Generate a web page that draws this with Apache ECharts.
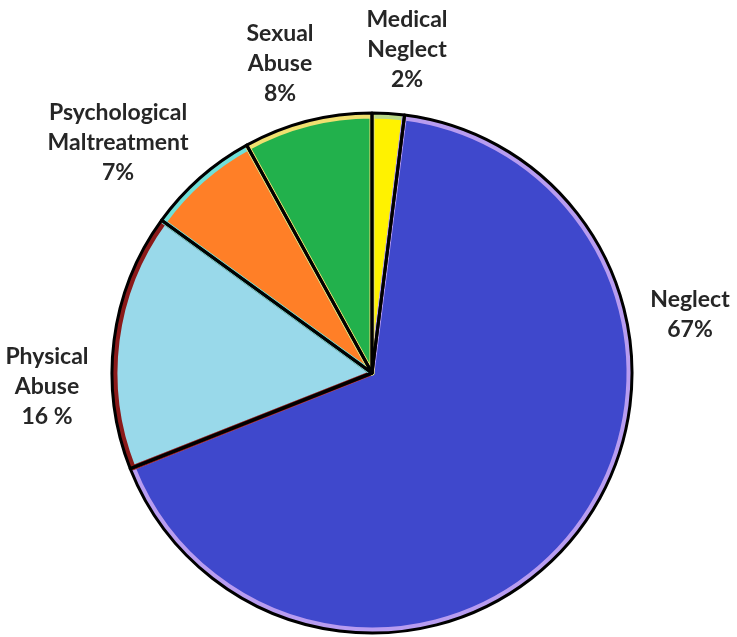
<!DOCTYPE html>
<html>
<head>
<meta charset="utf-8">
<script src="https://cdn.jsdelivr.net/npm/echarts@6/dist/echarts.min.js"></script>
<style>html,body{margin:0;padding:0;background:#fff}#c{width:737px;height:637px}</style>
</head>
<body>
<div id="c"></div>
<script>
// Data
const categories = ['Medical\nNeglect', 'Neglect', 'Physical\nAbuse', 'Psychological\nMaltreatment', 'Sexual\nAbuse'];
const values = [2, 67, 16, 7, 8];
const percentLabels = ['2%', '67%', '16 %', '7%', '8%'];
const fillColors = ['#fff200', '#3f48cc', '#99d9ea', '#ff7f27', '#22b14c'];
const innerBorderColors = ['#b8d88a', '#b89cf0', '#8b1a1a', '#70e0d8', '#f0e070'];
// label anchor positions (centre of text block)
const labelPos = [[407, 50], [690, 315], [47, 387], [118, 143], [280, 64]];

const chart = echarts.init(document.getElementById('c'), null, {renderer: 'canvas'});
const center = [372, 373];

const dataFill = categories.map((c, i) => ({
  name: c, value: values[i],
  itemStyle: {color: fillColors[i], borderColor: innerBorderColors[i], borderWidth: 5}
}));
const dataOutline = categories.map((c, i) => ({name: c, value: values[i]}));

chart.setOption({
  animation: false,
  series: [
    {
      type: 'pie',
      center: center,
      radius: 257,
      startAngle: 90,
      clockwise: true,
      data: dataFill,
      label: {show: false},
      labelLine: {show: false},
      emphasis: {disabled: true}
    },
    {
      type: 'pie',
      center: center,
      radius: 260,
      startAngle: 90,
      clockwise: true,
      silent: true,
      data: dataOutline,
      itemStyle: {color: 'rgba(0,0,0,0)', borderColor: '#000', borderWidth: 3},
      label: {
        show: true,
        position: 'outside',
        formatter: p => p.name + '\n' + percentLabels[p.dataIndex],
        fontFamily: 'Lato',
        fontWeight: 'bold',
        fontSize: 23,
        lineHeight: 30,
        color: '#262626',
        align: 'center',
        overflow: 'none'
      },
      labelLine: {show: false},
      labelLayout: p => ({
        x: labelPos[p.dataIndex][0],
        y: labelPos[p.dataIndex][1],
        align: 'center',
        verticalAlign: 'middle'
      }),
      emphasis: {disabled: true}
    }
  ]
});
</script>
</body>
</html>
